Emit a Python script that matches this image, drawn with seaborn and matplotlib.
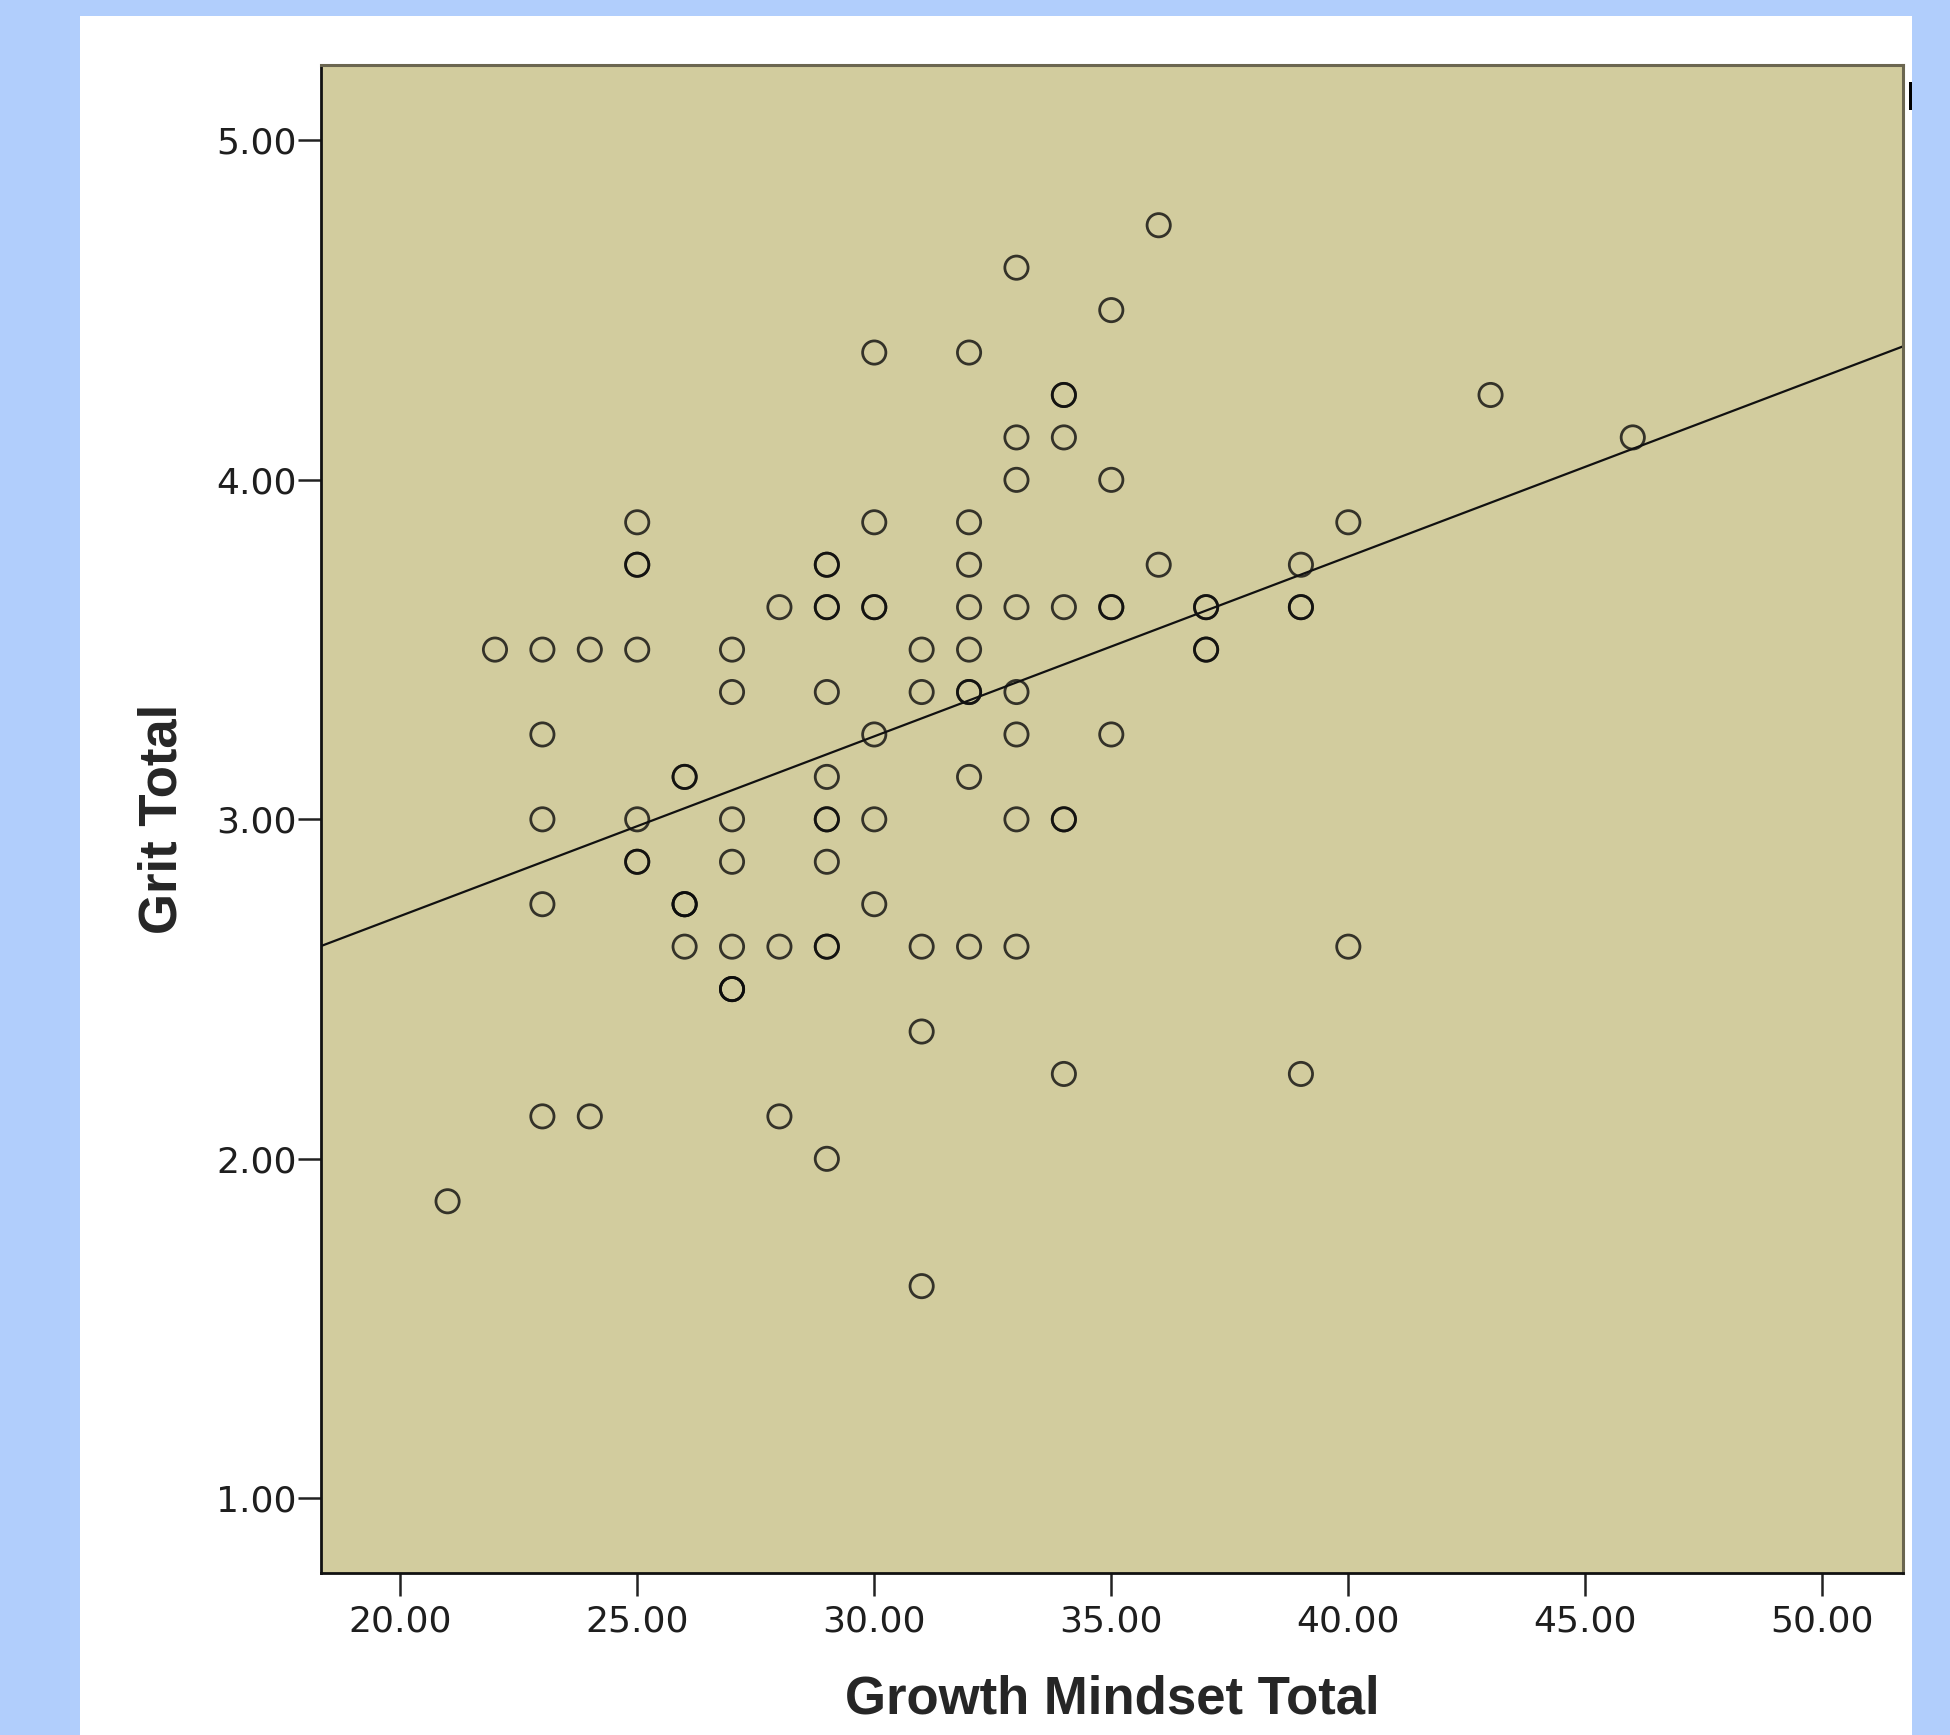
import numpy as np
import pandas as pd
import matplotlib.pyplot as plt
import seaborn as sns
from matplotlib.patches import Rectangle

# Data (grit is on a 1/8 grid); n = how many cases sit on that spot
growth = [36, 33, 35, 30, 32, 34, 43, 33, 34, 46, 33, 35,
          25, 30, 32, 40, 25, 29, 32, 36, 39,
          28, 29, 30, 32, 33, 34, 35, 37, 39,
          22, 23, 24, 25, 27, 31, 32, 37,
          27, 29, 31, 32, 33, 23, 30, 33, 35,
          26, 29, 32, 23, 25, 27, 29, 30, 33, 34,
          25, 27, 29, 23, 26, 30,
          26, 27, 28, 29, 31, 32, 33, 40,
          27, 31, 34, 39, 23, 24, 28, 29, 21, 31]
grit = [4.75, 4.625, 4.5, 4.375, 4.375, 4.25, 4.25, 4.125, 4.125, 4.125, 4.0, 4.0,
        3.875, 3.875, 3.875, 3.875, 3.75, 3.75, 3.75, 3.75, 3.75,
        3.625, 3.625, 3.625, 3.625, 3.625, 3.625, 3.625, 3.625, 3.625,
        3.5, 3.5, 3.5, 3.5, 3.5, 3.5, 3.5, 3.5,
        3.375, 3.375, 3.375, 3.375, 3.375, 3.25, 3.25, 3.25, 3.25,
        3.125, 3.125, 3.125, 3.0, 3.0, 3.0, 3.0, 3.0, 3.0, 3.0,
        2.875, 2.875, 2.875, 2.75, 2.75, 2.75,
        2.625, 2.625, 2.625, 2.625, 2.625, 2.625, 2.625, 2.625,
        2.5, 2.375, 2.25, 2.25, 2.125, 2.125, 2.125, 2.0, 1.875, 1.625]
n = [1, 1, 1, 1, 1, 2, 1, 1, 1, 1, 1, 1,
     1, 1, 1, 1, 2, 2, 1, 1, 1,
     1, 2, 2, 1, 1, 1, 2, 2, 2,
     1, 1, 1, 1, 1, 1, 1, 2,
     1, 1, 1, 2, 1, 1, 1, 1, 1,
     2, 1, 1, 1, 1, 1, 2, 1, 1, 2,
     2, 1, 1, 1, 3, 1,
     1, 1, 1, 2, 1, 1, 1, 1,
     3, 1, 1, 1, 1, 1, 1, 1, 1, 1]

x_ticks = [20, 25, 30, 35, 40, 45, 50]
y_ticks = [1, 2, 3, 4, 5]

df = pd.DataFrame({'Growth Mindset Total': np.repeat(growth, n),
                   'Grit Total': np.repeat(grit, n)})

sns.set_style('ticks')
plt.rcParams['font.family'] = ['Liberation Sans', 'DejaVu Sans']

fig = plt.figure(figsize=(19.5, 17.35), dpi=100)
fig.patch.set_facecolor('#b1cefc')
# white panel behind the chart
fig.patches.append(Rectangle((80 / 1950, 0), 1832 / 1950, 1719 / 1735,
                             transform=fig.transFigure, facecolor='white',
                             edgecolor='none', zorder=-10))
fig.patches.append(Rectangle((1909 / 1950, 1 - 110 / 1735), 3 / 1950, 28 / 1735,
                             transform=fig.transFigure, facecolor='black',
                             edgecolor='none', zorder=-9))

ax = fig.add_axes([321 / 1950, 1 - 1573 / 1735, 1582 / 1950, 1508 / 1735])
ax.set_facecolor('#d2cc9e')
ax.set_xlim(18.33, 51.70)
ax.set_ylim(0.78, 5.222)

sns.regplot(data=df, x='Growth Mindset Total', y='Grit Total', ax=ax,
            ci=None, truncate=False, marker='o',
            scatter_kws={'s': 280, 'facecolors': 'none', 'edgecolors': '#0c0c0c',
                         'linewidths': 2.0, 'alpha': 0.8},
            line_kws={'color': '#111111', 'linewidth': 1.6})

ax.set_xlim(18.33, 51.70)
ax.set_ylim(0.78, 5.222)
ax.set_xticks(x_ticks)
ax.set_xticklabels([f'{v:.2f}' for v in x_ticks])
ax.set_yticks(y_ticks)
ax.set_yticklabels([f'{v:.2f}' for v in y_ticks])
for lab in ax.get_xticklabels() + ax.get_yticklabels():
    lab.set_family('DejaVu Sans')
ax.tick_params(axis='both', direction='out', length=16.5, width=1.8,
               color='#222222', labelsize=26, labelcolor='#1e1e1e')
ax.tick_params(axis='x', pad=6)
ax.tick_params(axis='y', pad=1)

for side in ['left', 'bottom']:
    ax.spines[side].set_color('#111111')
    ax.spines[side].set_linewidth(2)
for side in ['top', 'right']:
    ax.spines[side].set_color('#6b6650')
    ax.spines[side].set_linewidth(2.2)

ax.set_xlabel('Growth Mindset Total', fontsize=38, fontweight='bold', labelpad=26)
ax.set_ylabel('Grit Total', fontsize=38, fontweight='bold', labelpad=21)

plt.savefig('out.png', dpi=100, facecolor=fig.get_facecolor())
